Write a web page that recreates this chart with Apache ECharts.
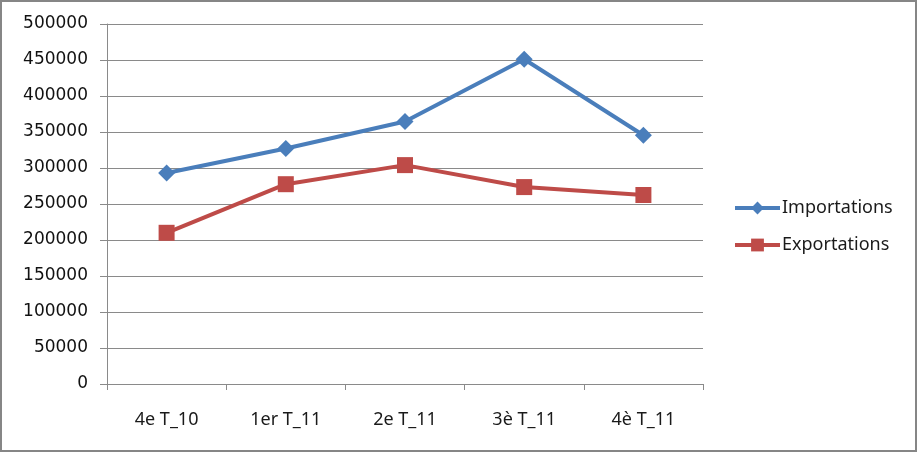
<!DOCTYPE html>
<html><head><meta charset="utf-8">
<script src="https://cdn.jsdelivr.net/npm/echarts@6/dist/echarts.min.js"></script>
<style>html,body{margin:0;padding:0;background:#fff}#c{width:917px;height:452px}</style>
</head><body><div id="c"></div>
<script>
const categories = ['4e T_10', '1er T_11', '2e T_11', '3è T_11', '4è T_11'];
const importations = [293000, 327000, 364500, 451000, 345500];
const exportations = [210000, 277500, 304000, 273500, 262500];
const yTicks = {min: 0, max: 500000, interval: 50000};

const chart = echarts.init(document.getElementById('c'), null, {renderer: 'canvas'});
chart.setOption({
  animation: false,
  backgroundColor: '#fff',
  grid: {left: 107, right: 214, top: 24, bottom: 68},
  graphic: [{
    type: 'rect', shape: {x: 1, y: 1, width: 915, height: 450},
    style: {fill: 'none', stroke: '#868686', lineWidth: 2}, z: 100
  }],
  legend: {
    orient: 'vertical', left: 728, top: 194,
    itemWidth: 45, itemHeight: 16, itemGap: 19,
    lineStyle: {width: 4},
    textStyle: {fontFamily: 'Noto Sans', fontSize: 18, color: '#1a1a1a', padding: [0,0,0,-3]},
    data: ['Importations', 'Exportations']
  },
  xAxis: {
    type: 'category', data: categories, boundaryGap: true,
    axisLine: {lineStyle: {color: '#8a8a8a', width: 1}},
    axisTick: {show: true, length: 6, lineStyle: {color: '#8a8a8a'}},
    axisLabel: {fontFamily: 'Noto Sans', fontSize: 18, color: '#1a1a1a', margin: 27}
  },
  yAxis: {
    type: 'value', min: yTicks.min, max: yTicks.max, interval: yTicks.interval,
    axisLine: {show: true, lineStyle: {color: '#8a8a8a', width: 1}},
    axisTick: {show: true, length: 7, lineStyle: {color: '#8a8a8a'}},
    splitLine: {lineStyle: {color: '#8a8a8a', width: 1}},
    axisLabel: {fontFamily: 'DejaVu Sans', fontSize: 17, color: '#111', margin: 19,
      formatter: function (v) { return String(v); }}
  },
  series: [
    {
      name: 'Importations', type: 'line', data: importations,
      symbol: 'diamond', symbolSize: 17,
      lineStyle: {color: '#4a7ebb', width: 4},
      itemStyle: {color: '#4a7ebb'}
    },
    {
      name: 'Exportations', type: 'line', data: exportations,
      symbol: 'rect', symbolSize: 16,
      lineStyle: {color: '#be4b48', width: 4},
      itemStyle: {color: '#be4b48'}
    }
  ]
});
</script></body></html>
